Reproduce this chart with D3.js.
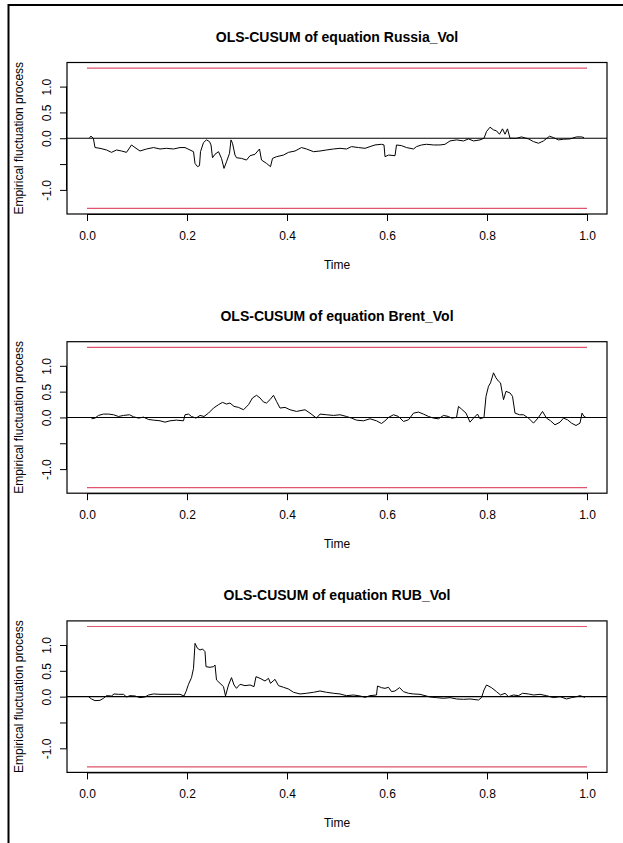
<!DOCTYPE html>
<html><head><meta charset="utf-8">
<script src="https://cdn.jsdelivr.net/npm/d3@7"></script>
<style>
body{margin:0;background:#fff}
svg{display:block}
text{font-family:"Liberation Sans",Arial,sans-serif;fill:#000}
</style>
</head><body><svg id="c" width="623" height="843"></svg>
<script>
const titles = ["OLS-CUSUM of equation Russia_Vol","OLS-CUSUM of equation Brent_Vol","OLS-CUSUM of equation RUB_Vol"];
const xLabel = "Time";
const yLabel = "Empirical fluctuation process";
const xTicks = [0,0.2,0.4,0.6,0.8,1.0];
const xTickLabels = ["0.0","0.2","0.4","0.6","0.8","1.0"];
const yTicks = [-1,-0.5,0,0.5,1];
const yTickLabels = ["-1.0","","0.0","0.5","1.0"];
const boundary = 1.358;

const russiaT = [0.0047,0.008,0.0127,0.016,0.026,0.039,0.049,0.059,0.069,0.079,0.089,0.096,0.106,0.119,0.133,0.146,0.159,0.173,0.186,0.196,0.206,0.213,0.216,0.221,0.225,0.227,0.233,0.239,0.245,0.248,0.251,0.256,0.263,0.269,0.274,0.279,0.285,0.288,0.291,0.296,0.299,0.309,0.319,0.326,0.336,0.345,0.349,0.359,0.367,0.371,0.379,0.393,0.403,0.416,0.429,0.439,0.453,0.466,0.479,0.493,0.506,0.519,0.529,0.543,0.556,0.566,0.576,0.589,0.594,0.596,0.603,0.616,0.619,0.629,0.639,0.653,0.659,0.669,0.679,0.693,0.706,0.716,0.726,0.739,0.753,0.763,0.773,0.786,0.794,0.799,0.806,0.813,0.819,0.825,0.831,0.836,0.841,0.846,0.859,0.869,0.883,0.893,0.903,0.913,0.925,0.933,0.943,0.953,0.966,0.979,0.989,0.994];
const russiaV = [0.01,0.04,0.0,-0.18,-0.195,-0.227,-0.273,-0.227,-0.247,-0.273,-0.13,-0.18,-0.247,-0.208,-0.18,-0.208,-0.195,-0.208,-0.18,-0.18,-0.227,-0.26,-0.487,-0.55,-0.53,-0.26,-0.084,-0.032,-0.065,-0.13,-0.377,-0.31,-0.26,-0.39,-0.584,-0.455,-0.292,-0.032,-0.097,-0.325,-0.377,-0.39,-0.422,-0.338,-0.31,-0.208,-0.422,-0.487,-0.55,-0.39,-0.357,-0.325,-0.273,-0.247,-0.18,-0.208,-0.26,-0.247,-0.227,-0.208,-0.195,-0.208,-0.162,-0.18,-0.195,-0.162,-0.13,-0.117,-0.13,-0.357,-0.325,-0.338,-0.13,-0.143,-0.18,-0.208,-0.162,-0.13,-0.117,-0.13,-0.13,-0.117,-0.052,-0.032,-0.052,-0.013,-0.052,-0.032,0.0,0.13,0.214,0.162,0.143,0.078,0.182,0.078,0.182,0.0,0.0,0.026,-0.013,-0.065,-0.097,-0.052,0.039,0.013,-0.032,-0.019,-0.013,0.026,0.026,0.013];

const brentT = [0.009,0.016,0.023,0.033,0.043,0.053,0.063,0.073,0.085,0.093,0.103,0.113,0.123,0.133,0.146,0.156,0.166,0.179,0.193,0.196,0.203,0.209,0.218,0.226,0.234,0.243,0.253,0.263,0.271,0.279,0.286,0.294,0.303,0.313,0.323,0.331,0.339,0.346,0.353,0.359,0.366,0.373,0.379,0.386,0.396,0.406,0.419,0.436,0.446,0.459,0.466,0.479,0.493,0.506,0.519,0.529,0.539,0.553,0.566,0.579,0.589,0.596,0.603,0.613,0.623,0.633,0.643,0.653,0.663,0.673,0.683,0.693,0.703,0.713,0.723,0.729,0.739,0.743,0.749,0.758,0.766,0.773,0.781,0.786,0.794,0.798,0.803,0.807,0.813,0.818,0.823,0.827,0.833,0.838,0.846,0.851,0.856,0.865,0.873,0.883,0.893,0.903,0.911,0.919,0.927,0.936,0.946,0.953,0.961,0.969,0.978,0.986,0.99,0.994,0.998];
const brentV = [-0.026,-0.013,0.039,0.065,0.065,0.052,0.019,0.039,0.052,0.013,-0.013,0.006,-0.039,-0.052,-0.065,-0.091,-0.065,-0.052,-0.065,0.052,0.065,0.019,-0.013,0.039,0.019,0.084,0.182,0.247,0.292,0.26,0.279,0.214,0.195,0.149,0.247,0.377,0.429,0.377,0.299,0.279,0.344,0.429,0.312,0.182,0.195,0.149,0.117,0.149,0.084,-0.013,0.065,0.052,0.039,0.052,0.019,-0.013,-0.052,-0.065,-0.026,-0.065,-0.117,-0.065,0.0,0.052,0.019,-0.078,-0.045,0.084,0.104,0.065,0.019,-0.013,-0.026,0.039,0.019,-0.013,0.0,0.214,0.162,0.084,-0.091,-0.013,0.065,-0.026,0.0,0.409,0.604,0.669,0.864,0.766,0.701,0.669,0.344,0.506,0.474,0.409,0.084,0.052,0.052,-0.013,-0.11,0.0,0.117,-0.013,-0.065,-0.143,-0.091,-0.013,-0.045,-0.11,-0.156,-0.11,0.084,0.019,0.0];

const rubT = [0.003,0.009,0.016,0.026,0.033,0.039,0.049,0.054,0.063,0.073,0.079,0.086,0.096,0.106,0.116,0.123,0.133,0.146,0.166,0.186,0.194,0.198,0.203,0.209,0.213,0.216,0.221,0.226,0.231,0.236,0.238,0.246,0.253,0.256,0.259,0.266,0.273,0.277,0.283,0.289,0.294,0.299,0.306,0.316,0.326,0.334,0.338,0.346,0.356,0.363,0.367,0.376,0.383,0.393,0.403,0.413,0.426,0.439,0.453,0.466,0.479,0.493,0.506,0.519,0.533,0.546,0.556,0.566,0.579,0.581,0.589,0.596,0.603,0.609,0.616,0.625,0.633,0.643,0.653,0.666,0.676,0.686,0.699,0.713,0.726,0.739,0.753,0.766,0.783,0.789,0.794,0.799,0.809,0.819,0.827,0.836,0.843,0.853,0.863,0.871,0.883,0.893,0.906,0.919,0.933,0.946,0.959,0.969,0.979,0.986,0.996];
const rubV = [0.0,-0.045,-0.077,-0.071,-0.032,0.019,0.013,0.052,0.045,0.045,-0.006,0.019,0.013,-0.019,-0.006,0.032,0.052,0.045,0.045,0.045,0.013,0.097,0.239,0.368,0.548,1.032,0.935,0.903,0.923,0.871,0.581,0.568,0.581,0.613,0.323,0.258,0.194,0.013,0.226,0.368,0.226,0.161,0.239,0.213,0.226,0.194,0.387,0.355,0.303,0.355,0.258,0.335,0.213,0.181,0.148,0.084,0.052,0.065,0.084,0.11,0.084,0.065,0.052,0.019,0.032,0.013,-0.013,0.019,0.032,0.206,0.174,0.161,0.181,0.097,0.11,0.174,0.097,0.065,0.052,0.045,0.019,-0.006,-0.019,-0.032,-0.019,-0.045,-0.052,-0.045,-0.065,-0.019,0.129,0.226,0.174,0.097,0.032,0.065,0.0,0.032,0.019,0.065,0.052,0.032,0.045,0.019,-0.019,0.0,-0.045,-0.019,0.0,0.019,-0.013];

const panels = [
  {title: titles[0], t: russiaT, v: russiaV},
  {title: titles[1], t: brentT, v: brentV},
  {title: titles[2], t: rubT, v: rubV}
];

const svg = d3.select("#c");
const W = 623, H = 843;
const panelH = 279.2;
const box = {left: 67, right: 607, top: 62.5, bottom: 214};
const red = "#DF536B";
const font = '"Liberation Sans",Arial,sans-serif';

// outer frame lines
svg.append("line").attr("x1",8.5).attr("x2",8.5).attr("y1",4).attr("y2",H).attr("stroke","#000").attr("stroke-width",2);
svg.append("line").attr("x1",8).attr("x2",W).attr("y1",5).attr("y2",5).attr("stroke","#000").attr("stroke-width",2);

const ext = 0.04;
const yDom = boundary*(1+2*ext);

panels.forEach((p,i)=>{
  const g = svg.append("g").attr("transform",`translate(0,${i*panelH})`);
  const x = d3.scaleLinear().domain([0-ext,1+ext]).range([box.left,box.right]);
  const y = d3.scaleLinear().domain([-yDom,yDom]).range([box.bottom,box.top]);

  // title
  g.append("text").attr("x",(box.left+box.right)/2).attr("y",42)
    .attr("text-anchor","middle").style("font-size","14px").style("font-weight","bold").text(p.title);

  // x axis
  const xa = g.append("g").attr("transform",`translate(0,${box.bottom})`)
    .call(d3.axisBottom(x).tickValues(xTicks).tickFormat((d,j)=>xTickLabels[j]).tickSize(7).tickPadding(10));
  xa.select(".domain").attr("d",`M${x(0)},0.5H${x(1)}`);
  xa.selectAll("text").style("font-size","12px").style("font-family",font);

  // y axis
  const ya = g.append("g").attr("transform",`translate(${box.left},0)`)
    .call(d3.axisLeft(y).tickValues(yTicks).tickFormat((d,j)=>yTickLabels[j]).tickSize(7).tickPadding(0));
  ya.select(".domain").attr("d",`M-0.5,${y(-1)}V${y(1)}`);
  ya.selectAll(".tick text")
    .attr("transform","rotate(-90)")
    .attr("text-anchor","middle")
    .attr("x",0).attr("y",-16).attr("dy","0em")
    .style("font-size","12px").style("font-family",font);

  // axis labels
  g.append("text").attr("x",(box.left+box.right)/2).attr("y",269)
    .attr("text-anchor","middle").style("font-size","12px").text(xLabel);
  g.append("text").attr("transform",`translate(23,${(box.top+box.bottom)/2}) rotate(-90)`)
    .attr("text-anchor","middle").style("font-size","12px").text(yLabel);

  // box
  g.append("rect").attr("x",box.left).attr("y",box.top)
    .attr("width",box.right-box.left).attr("height",box.bottom-box.top)
    .attr("fill","none").attr("stroke","#000").attr("stroke-width",1.2);

  // boundaries
  [boundary,-boundary].forEach(b=>{
    g.append("line").attr("x1",x(0)).attr("x2",x(1)).attr("y1",y(b)).attr("y2",y(b))
      .attr("stroke",red).attr("stroke-width",1.2);
  });
  // zero line
  g.append("line").attr("x1",box.left).attr("x2",box.right).attr("y1",y(0)).attr("y2",y(0))
    .attr("stroke","#000").attr("stroke-width",1.1);

  // series
  const data = p.t.map((t,j)=>[t,p.v[j]]);
  g.append("path").datum(data)
    .attr("d",d3.line().x(d=>x(d[0])).y(d=>y(d[1])))
    .attr("fill","none").attr("stroke","#000").attr("stroke-width",1);
});
</script>
</body></html>
